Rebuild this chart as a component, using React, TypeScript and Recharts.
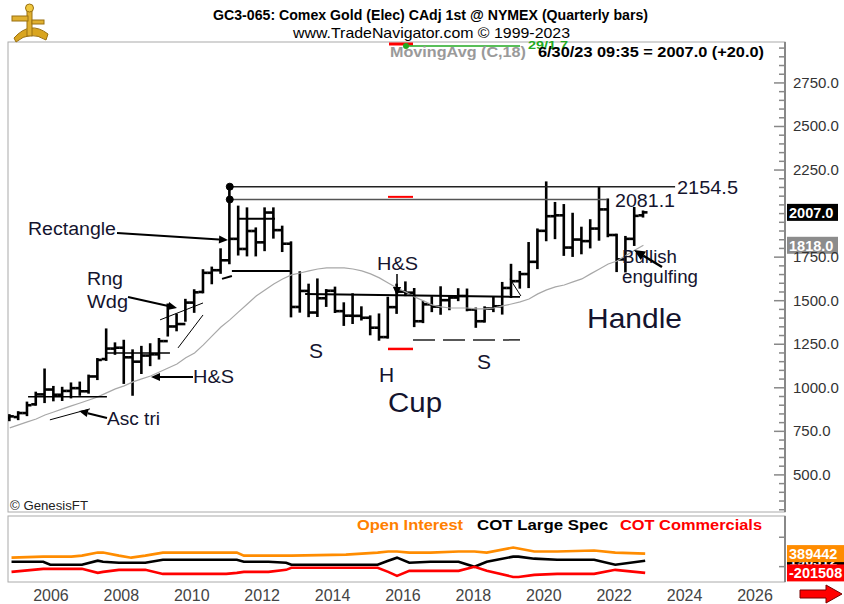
import React from "react";
import { ComposedChart, LineChart, Bar, Line, XAxis, YAxis, ReferenceLine, ReferenceDot } from "recharts";

const F = "'Liberation Sans', Arial, Helvetica, sans-serif";
const FN = "'Liberation Sans Narrow', 'Arial Narrow', 'Liberation Sans', Arial, sans-serif";

// ---------- price data (quarterly bars) ----------
const quarters = [
  "2005Q2","2005Q3","2005Q4","2006Q1","2006Q2","2006Q3","2006Q4","2007Q1","2007Q2","2007Q3","2007Q4",
  "2008Q1","2008Q2","2008Q3","2008Q4","2009Q1","2009Q2","2009Q3","2009Q4","2010Q1","2010Q2","2010Q3","2010Q4",
  "2011Q1","2011Q2","2011Q3","2011Q4","2012Q1","2012Q2","2012Q3","2012Q4","2013Q1","2013Q2","2013Q3","2013Q4",
  "2014Q1","2014Q2","2014Q3","2014Q4","2015Q1","2015Q2","2015Q3","2015Q4","2016Q1","2016Q2","2016Q3","2016Q4",
  "2017Q1","2017Q2","2017Q3","2017Q4","2018Q1","2018Q2","2018Q3","2018Q4","2019Q1","2019Q2","2019Q3","2019Q4",
  "2020Q1","2020Q2","2020Q3","2020Q4","2021Q1","2021Q2","2021Q3","2021Q4","2022Q1","2022Q2","2022Q3","2022Q4",
  "2023Q1","2023Q2"
];
const opens = [828,832,855,905,962,990,960,982,998,980,1065,1165,1225,1230,1175,1150,1185,1192,1268,1352,1366,1489,1550,
  1660,1675,1732,1855,1797,1900,1835,2006,1905,1827,1464,1556,1432,1514,1557,1440,1414,1413,1402,1345,1291,1463,1552,1546,
  1382,1479,1466,1503,1518,1527,1449,1382,1455,1468,1573,1612,1653,1723,1901,1985,1990,1805,1851,1842,1914,2024,1877,1737,
  1855,1990];
const highs = [843,860,915,972,1105,1005,1000,1025,1030,1070,1165,1335,1255,1270,1215,1235,1250,1280,1478,1420,1505,1560,1675,
  1690,1795,2154.5,2040,2030,1915,2030,2030,1925,1835,1663,1592,1622,1561,1575,1485,1537,1462,1410,1421,1517,1592,1605,1567,
  1494,1520,1577,1523,1566,1564,1455,1462,1516,1602,1706,1665,1831,1909,2179,2061,2049,1999,1919,1962,2148,2081.1,1879,1866,
  2032,2012];
const lows = [814,820,843,903,918,928,930,945,960,972,1050,1160,1195,1028,960,1085,1130,1168,1300,1330,1385,1436,1548,
  1600,1660,1715,1765,1760,1760,1790,1862,1785,1410,1437,1411,1412,1470,1435,1361,1372,1392,1307,1276,1288,1430,1532,1354,
  1377,1440,1425,1451,1503,1445,1350,1380,1440,1426,1521,1575,1578,1687,1847,1859,1763,1757,1772,1806,1850,1870,1670,1668,
  1820,1983];
const closes = [836,855,900,962,990,960,982,998,980,1065,1160,1225,1230,1175,1150,1185,1192,1268,1352,1366,1489,1548,1660,
  1675,1732,1855,1797,1900,1835,2006,1905,1827,1464,1556,1432,1514,1557,1440,1414,1413,1402,1345,1291,1463,1552,1546,1382,
  1479,1466,1503,1518,1527,1449,1382,1455,1468,1573,1612,1653,1723,1901,1985,1990,1805,1851,1842,1914,2024,1877,1737,1855,
  1987,2007];
const ma18 = [770,787,804,821,844,861,879,896,913,930,948,971,994,1011,1034,1051,1068,1091,1114,1137,1172,1200,1246,1298,
  1349,1390,1436,1481,1527,1562,1596,1625,1648,1659,1671,1682,1688,1688,1688,1682,1671,1654,1631,1602,1573,1550,1522,1499,
  1476,1464,1458,1458,1458,1453,1453,1458,1470,1481,1493,1510,1539,1562,1579,1590,1608,1625,1654,1682,1711,1728,1760,1790,1818];

const majorTicks = [500, 750, 1000, 1250, 1500, 1750, 2000, 2250, 2500, 2750].filter(v => v !== 2000);
const yearLabels = [2006, 2008, 2010, 2012, 2014, 2016, 2018, 2020, 2022, 2024, 2026];

// ---------- COT panel ----------
const cotTimes = [2005.3,2006.2,2006.4,2007.0,2007.3,2007.75,2007.9,2008.35,2008.7,2009.1,2009.6,2011.4,2011.7,2011.9,2012.6,
  2013.1,2013.25,2014.8,2015.7,2016.0,2016.25,2016.6,2017.2,2018.0,2018.45,2018.8,2019.55,2019.7,2020.15,2020.8,2021.85,2022.45,2023.3];
const openInterest = [265000,296000,296000,296000,327000,420000,420000,327000,265000,327000,420000,420000,420000,327000,327000,
  327000,327000,358000,420000,452000,452000,420000,420000,452000,452000,420000,576000,545000,452000,452000,483000,420000,389442];
const largeSpec = [141000,141000,47000,47000,47000,172000,141000,110000,110000,110000,203000,203000,203000,141000,141000,
  110000,47000,47000,47000,172000,265000,110000,141000,141000,-15000,141000,296000,296000,234000,203000,203000,47000,172000];
const commercials = [-170000,-77000,-77000,-77000,-77000,-201000,-170000,-108000,-108000,-108000,-232000,-232000,-201000,-170000,-170000,
  -108000,-46000,-46000,-46000,-170000,-294000,-139000,-139000,-139000,-15000,-139000,-325000,-325000,-263000,-232000,-232000,-108000,-201508];

const XMIN = 2005.2;
const XMAX = 2027.272;
const qToT = (q: string) => parseInt(q.slice(0, 4), 10) + (parseInt(q.slice(5), 10) - 1) / 4;

const priceData = quarters.map((q, i) => ({
  t: qToT(q), range: [lows[i], highs[i]], open: opens[i], high: highs[i], low: lows[i], close: closes[i], ma: ma18[i],
}));
const cotData = cotTimes.map((t, i) => ({ t, oi: openInterest[i], ls: largeSpec[i], cm: commercials[i] }));

const minorTicks: number[] = [];
for (let v = 300; v <= 2950; v += 50) minorTicks.push(v);

const OhlcShape = (props: any) => {
  const { x, y, width, height, payload } = props;
  if (x == null || y == null || !payload) return null;
  const top = Math.min(y, y + height);
  const h = Math.abs(height);
  const cx = x + width / 2;
  const k = h / (payload.high - payload.low || 1);
  const oy = top + (payload.high - payload.open) * k;
  const cy = top + (payload.high - payload.close) * k;
  return (
    <g stroke="#000" strokeWidth={2.6}>
      <line x1={cx} x2={cx} y1={top - 1} y2={top + h + 1} />
      <line x1={cx - 4.5} x2={cx} y1={oy} y2={oy} />
      <line x1={cx} x2={cx + 4.5} y1={cy} y2={cy} />
    </g>
  );
};

const PriceTick = (props: any) => {
  const { x, y, payload } = props;
  const v = payload.value;
  const major = majorTicks.includes(v);
  return (
    <g>
      <line x1={x - (major ? 11 : 6)} x2={x} y1={y} y2={y} stroke="#888" strokeWidth={1.5} />
      {major && (
        <text x={x + 8} y={y} dy={5} fontSize={15} fill="#333" fontFamily={F}>{v.toFixed(1)}</text>
      )}
    </g>
  );
};

const SmallTick = (props: any) => {
  const { x, y } = props;
  return <line x1={x - 6} x2={x} y1={y} y2={y} stroke="#888" strokeWidth={1.5} />;
};

const boxLabel = (text: string, bg: string, fg: string, w = 51) => (p: any) => {
  const vb = p.viewBox || {};
  const bx = (vb.x || 0) + (vb.width || 0) + 2;
  const by = vb.y || 0;
  return (
    <g>
      <rect x={bx} y={by - 8.5} width={w} height={17} fill={bg} />
      <text x={bx + 2} y={by + 5.5} fontSize={14.5} fill={fg} fontFamily={F} fontWeight="bold">{text}</text>
    </g>
  );
};

const Arrow = ({ x1, y1, x2, y2, w = 2, head = 9 }: any) => {
  const a = Math.atan2(y2 - y1, x2 - x1);
  const bx = x2 - head * Math.cos(a);
  const by = y2 - head * Math.sin(a);
  const px = Math.sin(a) * head * 0.45;
  const py = -Math.cos(a) * head * 0.45;
  return (
    <g>
      <line x1={x1} y1={y1} x2={bx} y2={by} stroke="#000" strokeWidth={w} />
      <polygon points={`${x2},${y2} ${bx + px},${by + py} ${bx - px},${by - py}`} fill="#000" />
    </g>
  );
};

const T = ({ x, y, s = 18, tl, children, fill = "#14142e", weight = "normal", family = F }: any) => (
  <text x={x} y={y} fontSize={s} fill={fill} fontFamily={family} fontWeight={weight}
    textLength={tl} lengthAdjust={tl ? "spacingAndGlyphs" : undefined}>{children}</text>
);

export default function App() {
  return (
    <div style={{ position: "absolute", left: 0, top: 0, width: 844, height: 604, background: "#fff", overflow: "hidden" }}>
      <svg width={844} height={604} style={{ position: "absolute", left: 0, top: 0 }}>
        <rect x={8} y={42} width={777} height={470} fill="none" stroke="#aaa" strokeWidth={1} />
        <rect x={8} y={516} width={777} height={66} fill="none" stroke="#aaa" strokeWidth={1} />
      </svg>

      <div style={{ position: "absolute", left: 0, top: 0 }}>
        <ComposedChart width={844} height={520} data={priceData} margin={{ top: 42, right: 0, bottom: 8, left: 8 }}>
          <XAxis dataKey="t" type="number" domain={[XMIN, XMAX]} allowDataOverflow hide />
          <YAxis orientation="right" width={59} type="number" domain={[287, 2985]} allowDataOverflow
            ticks={minorTicks} interval={0} tickSize={0} tickMargin={0} tick={<PriceTick />}
            axisLine={{ stroke: "#888", strokeWidth: 2 }} tickLine={false} />
          <Line dataKey="ma" type="linear" stroke="#a8a8a8" strokeWidth={1.2} dot={false} isAnimationActive={false} />
          <Bar dataKey="range" barSize={6} shape={<OhlcShape />} isAnimationActive={false} />

          <ReferenceLine segment={[{ x: 2011.5, y: 2154.5 }, { x: 2024.15, y: 2154.5 }]} stroke="#222" strokeWidth={1.5} />
          <ReferenceLine segment={[{ x: 2011.5, y: 2081.1 }, { x: 2022.22, y: 2081.1 }]} stroke="#555" strokeWidth={1.5} />
          <ReferenceDot x={2011.5} y={2154.5} r={3.5} fill="#000" stroke="#000" />
          <ReferenceDot x={2011.5} y={2081.1} r={3.5} fill="#000" stroke="#000" />
          <ReferenceLine segment={[{ x: 2011.706, y: 1970 }, { x: 2012.785, y: 1970 }]} stroke="#000" strokeWidth={2} />
          <ReferenceLine segment={[{ x: 2011.56, y: 1671 }, { x: 2013.21, y: 1671 }]} stroke="#000" strokeWidth={2} />
          <ReferenceLine segment={[{ x: 2011.28, y: 1625 }, { x: 2011.56, y: 1642 }]} stroke="#000" strokeWidth={2} />
          <ReferenceLine segment={[{ x: 2013.64, y: 1539 }, { x: 2019.745, y: 1522 }]} stroke="#000" strokeWidth={2} />
          <ReferenceLine segment={[{ x: 2008.01, y: 1200 }, { x: 2009.8, y: 1200 }]} stroke="#000" strokeWidth={1.5} />
          <ReferenceLine segment={[{ x: 2005.77, y: 948 }, { x: 2008.01, y: 948 }]} stroke="#000" strokeWidth={1.5} />
          <ReferenceLine segment={[{ x: 2006.39, y: 816 }, { x: 2007.53, y: 879 }]} stroke="#000" strokeWidth={1} />
          <ReferenceLine segment={[{ x: 2009.52, y: 1390 }, { x: 2010.74, y: 1487 }]} stroke="#000" strokeWidth={1} />
          <ReferenceLine segment={[{ x: 2010.03, y: 1229 }, { x: 2010.74, y: 1418 }]} stroke="#000" strokeWidth={1} />
          <ReferenceLine segment={[{ x: 2019.46, y: 1625 }, { x: 2019.77, y: 1527 }]} stroke="#000" strokeWidth={1} />
          <ReferenceLine segment={[{ x: 2015.995, y: 2096 }, { x: 2016.705, y: 2096 }]} stroke="#ff0000" strokeWidth={2} />
          <ReferenceLine segment={[{ x: 2015.995, y: 1223 }, { x: 2016.705, y: 1223 }]} stroke="#ff0000" strokeWidth={2.5} />
          <ReferenceLine segment={[{ x: 2016.705, y: 1275 }, { x: 2019.745, y: 1275 }]} stroke="#222" strokeWidth={1.5} strokeDasharray="22 8" />

          <ReferenceLine y={1818} stroke="none" label={boxLabel("1818.0", "#8c8c8c", "#fff")} />
          <ReferenceLine y={2007} stroke="none" label={boxLabel("2007.0", "#000", "#fff")} />
        </ComposedChart>
      </div>

      <div style={{ position: "absolute", left: 0, top: 510 }}>
        <LineChart width={844} height={94} data={cotData} margin={{ top: 6, right: 0, bottom: 0, left: 8 }}>
          <XAxis dataKey="t" type="number" domain={[XMIN, XMAX]} allowDataOverflow height={22}
            ticks={yearLabels.map(y => y + 0.42)} interval={0} tickFormatter={(v: number) => String(Math.round(v - 0.42))}
            tickLine={false} axisLine={false} tick={{ fontSize: 16, fill: "#444", fontFamily: F }} tickMargin={2} />
          <YAxis orientation="right" width={59} type="number" domain={[-480000, 1540000]} allowDataOverflow
            ticks={[890000, -10000]} tickSize={0} tickMargin={0} tick={<SmallTick />}
            axisLine={{ stroke: "#888", strokeWidth: 2 }} tickLine={false} />
          <Line dataKey="oi" type="linear" stroke="#ff8c00" strokeWidth={2.6} dot={false} isAnimationActive={false} />
          <Line dataKey="ls" type="linear" stroke="#000" strokeWidth={2.6} dot={false} isAnimationActive={false} />
          <Line dataKey="cm" type="linear" stroke="#ff0000" strokeWidth={2.6} dot={false} isAnimationActive={false} />
          <ReferenceLine y={172000} stroke="none" label={boxLabel("190312", "#000", "#fff", 60)} />
          <ReferenceLine y={389442} stroke="none" label={boxLabel("389442", "#ff8c00", "#fff", 60)} />
          <ReferenceLine y={-201508} stroke="none" label={boxLabel("-201508", "#ff0000", "#fff", 60)} />
        </LineChart>
      </div>

      <svg width={844} height={604} style={{ position: "absolute", left: 0, top: 0, pointerEvents: "none" }}>
        {/* logo */}
        <g>
          <path d="M14 38 Q30 20 48 34 L46 40 Q30 30 16 42 Z" fill="#d9a520" stroke="#9a7010" strokeWidth={1} />
          <rect x={27} y={6} width={5} height={30} fill="#e0b030" stroke="#9a7010" strokeWidth={1} />
          <circle cx={29.5} cy={8} r={4} fill="#f0c840" stroke="#9a7010" strokeWidth={1} />
          <rect x={12} y={16} width={16} height={5} fill="#e0b030" stroke="#9a7010" strokeWidth={1} />
          <rect x={32} y={20} width={12} height={4} fill="#e0b030" stroke="#9a7010" strokeWidth={1} />
        </g>
        <T x={213} y={20} s={15} tl={435} fill="#000" weight="bold" family={FN}>GC3-065:  Comex Gold (Elec) CAdj 1st @ NYMEX  (Quarterly bars)</T>
        <T x={293} y={38} s={15} tl={277} fill="#000" family={FN}>www.TradeNavigator.com © 1999-2023</T>
        <line x1={389} x2={413} y1={44} y2={44} stroke="#ff0000" strokeWidth={3} />
        <line x1={406} x2={520} y1={46} y2={46} stroke="#22aa22" strokeWidth={1.5} />
        <circle cx={406} cy={46} r={3} fill="#22aa22" />
        <T x={528} y={49} s={11} tl={40} fill="#22aa22" weight="bold" family={FN}>29/1.7</T>
        <T x={390} y={57} s={15} tl={136} fill="#9a9a9a" weight="bold" family={FN}>MovingAvg (C,18)</T>
        <T x={538} y={57} s={15} tl={226} fill="#000" weight="bold" family={FN}>6/30/23 09:35 = 2007.0 (+20.0)</T>

        <T x={28} y={235} tl={88}>Rectangle</T>
        <Arrow x1={117} y1={233} x2={228} y2={240} />
        <T x={87} y={285} tl={36}>Rng</T>
        <T x={87} y={308} tl={41}>Wdg</T>
        <Arrow x1={128} y1={297} x2={177} y2={308} />
        <T x={193} y={383} tl={41}>H&amp;S</T>
        <Arrow x1={193} y1={377} x2={151} y2={377} />
        <T x={107} y={425} tl={53}>Asc tri</T>
        <Arrow x1={107} y1={418} x2={79} y2={411} />
        <T x={309} y={358} s={21}>S</T>
        <T x={379} y={382} s={21}>H</T>
        <T x={477} y={369} s={21}>S</T>
        <T x={388} y={412} s={27} tl={54}>Cup</T>
        <T x={377} y={270} s={19} tl={41}>H&amp;S</T>
        <Arrow x1={397} y1={274} x2={397} y2={296} w={1.5} />
        <T x={587} y={328} s={28} tl={95}>Handle</T>
        <T x={622} y={263} tl={55}>Bullish</T>
        <T x={622} y={283} tl={76}>engulfing</T>
        <Arrow x1={662} y1={267} x2={634} y2={250} w={2.5} head={11} />
        <T x={615} y={207} s={19} tl={60}>2081.1</T>
        <T x={677} y={194} s={19} tl={61}>2154.5</T>

        <T x={10} y={510} s={12} tl={78} fill="#222">© GenesisFT</T>
        <T x={357} y={530} s={15} tl={106} fill="#ff8000" weight="bold" family={FN}>Open Interest</T>
        <T x={477} y={530} s={15} tl={131} fill="#000" weight="bold" family={FN}>COT Large Spec</T>
        <T x={620} y={530} s={15} tl={142} fill="#ff0000" weight="bold" family={FN}>COT Commercials</T>

        <polygon points="800,590 826,590 826,585 842,594 826,603 826,598 800,598" fill="#ff0000" stroke="#700" strokeWidth={1} />
      </svg>
    </div>
  );
}
